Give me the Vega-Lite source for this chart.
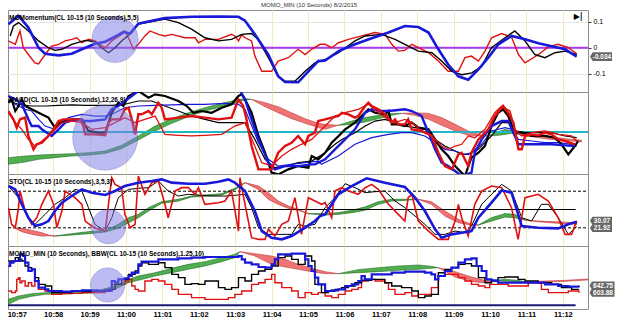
{
"$schema": "https://vega.github.io/schema/vega-lite/v6.json",
"background": "white",
"padding": {"left": 3, "top": 1, "right": 0, "bottom": 0},
"title": {"text": "MOMO_MIN (10 Seconds) 8/2/2015", "fontSize": 6, "fontWeight": "normal", "color": "#333333", "offset": 2, "anchor": "middle"},
"spacing": 0,
"bounds": "flush",
"config": {
  "font": "'Liberation Sans Narrow', 'Liberation Sans', sans-serif",
  "view": {"stroke": "#8c8c8c", "strokeWidth": 1},
  "axis": {"labelFontSize": 7, "labelColor": "#000000", "tickColor": "#333333", "tickSize": 3, "labelPadding": 2, "domain": false}
},
"datasets": {
  "m_blue": [{"t":56.77,"v":0.09},{"t":57.05,"v":0.122},{"t":57.32,"v":0.077},{"t":57.6,"v":0},{"t":57.78,"v":-0.023},{"t":58.15,"v":-0.029},{"t":58.51,"v":-0.023},{"t":58.79,"v":-0.006},{"t":59.15,"v":0.015},{"t":59.43,"v":0.023},{"t":59.79,"v":0.049},{"t":59.93,"v":0.06},{"t":60.11,"v":0.054},{"t":60.34,"v":0.092},{"t":60.71,"v":0.103},{"t":61.07,"v":0.113},{"t":61.81,"v":0.118},{"t":62.54,"v":0.119},{"t":63.09,"v":0.118},{"t":63.27,"v":0.103},{"t":63.54,"v":0.051},{"t":63.91,"v":-0.026},{"t":64.18,"v":-0.109},{"t":64.37,"v":-0.131},{"t":64.73,"v":-0.132},{"t":65.01,"v":-0.09},{"t":65.28,"v":-0.051},{"t":65.47,"v":-0.049},{"t":65.84,"v":-0.013},{"t":66.29,"v":0.013},{"t":66.75,"v":0.036},{"t":67.21,"v":0.058},{"t":67.66,"v":0.083},{"t":68.03,"v":0.079},{"t":68.31,"v":0.058},{"t":68.58,"v":-0.006},{"t":68.85,"v":-0.064},{"t":69.13,"v":-0.109},{"t":69.4,"v":-0.122},{"t":69.68,"v":-0.083},{"t":69.95,"v":-0.038},{"t":70.23,"v":0.013},{"t":70.59,"v":0.045},{"t":70.96,"v":0.032},{"t":71.33,"v":0.017},{"t":71.69,"v":0.006},{"t":72.06,"v":-0.006},{"t":72.38,"v":-0.034}],
  "m_black": [{"t":56.82,"v":0.045},{"t":56.91,"v":0.083},{"t":57.05,"v":0.096},{"t":57.32,"v":0.064},{"t":57.6,"v":0.026},{"t":57.87,"v":0},{"t":58.05,"v":-0.01},{"t":58.24,"v":-0.006},{"t":58.51,"v":0.013},{"t":58.88,"v":0.028},{"t":59.15,"v":0.023},{"t":59.33,"v":0},{"t":59.52,"v":-0.019},{"t":59.7,"v":0},{"t":59.88,"v":0.026},{"t":60.16,"v":0.058},{"t":60.34,"v":0.09},{"t":60.71,"v":0.1},{"t":61.07,"v":0.109},{"t":61.44,"v":0.096},{"t":61.8,"v":0.071},{"t":62.17,"v":0.038},{"t":62.54,"v":0.026},{"t":62.9,"v":0.032},{"t":63.18,"v":0.051},{"t":63.45,"v":0.054},{"t":63.63,"v":0.032},{"t":63.91,"v":-0.038},{"t":64.18,"v":-0.109},{"t":64.37,"v":-0.128},{"t":64.64,"v":-0.128},{"t":64.92,"v":-0.09},{"t":65.19,"v":-0.058},{"t":65.47,"v":-0.045},{"t":65.84,"v":-0.019},{"t":66.29,"v":0.026},{"t":66.57,"v":0.045},{"t":67.02,"v":0.051},{"t":67.39,"v":0.032},{"t":67.66,"v":0.013},{"t":68.03,"v":-0.013},{"t":68.4,"v":-0.019},{"t":68.67,"v":-0.051},{"t":68.95,"v":-0.09},{"t":69.22,"v":-0.103},{"t":69.5,"v":-0.096},{"t":69.77,"v":-0.071},{"t":70.04,"v":0},{"t":70.41,"v":0.038},{"t":70.68,"v":0.064},{"t":70.96,"v":0.026},{"t":71.23,"v":-0.026},{"t":71.51,"v":-0.038},{"t":71.78,"v":-0.019},{"t":72.06,"v":-0.013},{"t":72.38,"v":-0.026}],
  "m_red": [{"t":56.77,"v":0.026},{"t":56.96,"v":0.013},{"t":57.09,"v":0.064},{"t":57.18,"v":0},{"t":57.32,"v":-0.026},{"t":57.5,"v":-0.058},{"t":57.6,"v":-0.062},{"t":57.78,"v":-0.026},{"t":57.96,"v":0.006},{"t":58.15,"v":0.013},{"t":58.33,"v":0.026},{"t":58.51,"v":0.032},{"t":58.65,"v":0.038},{"t":58.79,"v":0.019},{"t":58.97,"v":0.032},{"t":59.15,"v":0.026},{"t":59.43,"v":0},{"t":59.61,"v":0.026},{"t":59.88,"v":0.051},{"t":59.97,"v":0.064},{"t":60.11,"v":0.026},{"t":60.2,"v":-0.006},{"t":60.34,"v":0.013},{"t":60.52,"v":0.045},{"t":60.66,"v":0.064},{"t":60.89,"v":0.051},{"t":61.07,"v":0.045},{"t":61.26,"v":0.051},{"t":61.62,"v":0.038},{"t":61.9,"v":0.038},{"t":61.99,"v":0.019},{"t":62.17,"v":0.032},{"t":62.54,"v":0.032},{"t":62.9,"v":0.051},{"t":62.99,"v":0.045},{"t":63.09,"v":0.026},{"t":63.18,"v":0.049},{"t":63.27,"v":0.038},{"t":63.45,"v":0.026},{"t":63.54,"v":-0.032},{"t":63.73,"v":-0.09},{"t":64.0,"v":-0.09},{"t":64.18,"v":-0.051},{"t":64.46,"v":-0.038},{"t":64.73,"v":-0.006},{"t":64.92,"v":-0.026},{"t":65.1,"v":-0.006},{"t":65.33,"v":0.013},{"t":65.47,"v":0.013},{"t":65.65,"v":0},{"t":65.84,"v":0.019},{"t":66.11,"v":0.032},{"t":66.48,"v":0.045},{"t":66.84,"v":0.058},{"t":67.12,"v":0.051},{"t":67.3,"v":0.013},{"t":67.48,"v":-0.013},{"t":67.66,"v":-0.01},{"t":67.85,"v":0.013},{"t":68.03,"v":0},{"t":68.31,"v":-0.019},{"t":68.58,"v":-0.051},{"t":68.85,"v":-0.09},{"t":69.13,"v":-0.09},{"t":69.31,"v":-0.038},{"t":69.49,"v":-0.032},{"t":69.68,"v":-0.051},{"t":69.86,"v":-0.013},{"t":70.04,"v":0.038},{"t":70.32,"v":0.054},{"t":70.59,"v":0.041},{"t":70.78,"v":-0.026},{"t":70.96,"v":-0.058},{"t":71.33,"v":-0.026},{"t":71.6,"v":0.003},{"t":71.87,"v":0.013},{"t":72.15,"v":0},{"t":72.38,"v":-0.023}],
  "m_zero": [{"t":56.76,"v":0},{"t":72.69,"v":0}],
  "m_circle": [{"t":59.7,"v":0.032}],
  "m_tag": [{"t":72.69,"v":-0.034,"label":"-0.034"}],
  "m_icon": [{"t":72.42,"v":0.117,"label":"▶|"}],

  "d_red": [{"t":56.77,"v":0.0159},{"t":56.91,"v":0.0096},{"t":57.0,"v":0.0033},{"t":57.09,"v":0.0096},{"t":57.23,"v":0.0109},{"t":57.32,"v":-0.003},{"t":57.46,"v":-0.0131},{"t":57.55,"v":-0.0093},{"t":57.69,"v":-0.0081},{"t":57.87,"v":-0.003},{"t":58.01,"v":0.002},{"t":58.15,"v":0.0083},{"t":58.28,"v":0.0096},{"t":58.51,"v":0.0096},{"t":58.74,"v":0.0096},{"t":58.83,"v":0.0045},{"t":58.88,"v":-0.0018},{"t":59.15,"v":-0.0018},{"t":59.43,"v":-0.0025},{"t":59.52,"v":0.0071},{"t":59.61,"v":0.0096},{"t":59.84,"v":0.0096},{"t":59.97,"v":0.0172},{"t":60.07,"v":0.0184},{"t":60.16,"v":0.0096},{"t":60.25,"v":-0.0018},{"t":60.34,"v":0.0134},{"t":60.43,"v":0.0134},{"t":60.62,"v":0.0159},{"t":60.71,"v":0.0134},{"t":60.89,"v":0.0222},{"t":60.98,"v":0.0184},{"t":61.07,"v":0.0096},{"t":61.44,"v":0.0109},{"t":61.8,"v":0.0121},{"t":62.17,"v":0.0109},{"t":62.54,"v":0.0096},{"t":62.9,"v":0.0109},{"t":63.09,"v":0.0247},{"t":63.22,"v":0.0197},{"t":63.31,"v":0.0096},{"t":63.45,"v":-0.0106},{"t":63.64,"v":-0.0283},{"t":64.0,"v":-0.0283},{"t":64.18,"v":-0.0157},{"t":64.37,"v":-0.0106},{"t":64.55,"v":-0.0081},{"t":64.73,"v":-0.003},{"t":64.92,"v":-0.0093},{"t":65.01,"v":-0.003},{"t":65.19,"v":-0.0005},{"t":65.28,"v":0.0083},{"t":65.47,"v":0.0096},{"t":65.65,"v":0.0109},{"t":65.84,"v":0.0121},{"t":65.93,"v":0.0146},{"t":66.11,"v":0.0134},{"t":66.29,"v":0.0109},{"t":66.38,"v":0.0121},{"t":66.57,"v":0.0197},{"t":66.66,"v":0.0222},{"t":66.75,"v":0.0197},{"t":66.93,"v":0.0172},{"t":67.12,"v":0.0134},{"t":67.3,"v":0.0071},{"t":67.39,"v":0.0096},{"t":67.48,"v":0.0058},{"t":67.66,"v":0.0058},{"t":67.75,"v":0.0096},{"t":67.85,"v":0.002},{"t":68.12,"v":0.0008},{"t":68.4,"v":-0.003},{"t":68.58,"v":-0.0157},{"t":68.76,"v":-0.0258},{"t":68.95,"v":-0.0283},{"t":69.13,"v":-0.0169},{"t":69.22,"v":-0.0157},{"t":69.4,"v":-0.0258},{"t":69.49,"v":-0.0157},{"t":69.68,"v":-0.0056},{"t":69.95,"v":0.002},{"t":70.13,"v":0.0121},{"t":70.36,"v":0.0197},{"t":70.5,"v":0.0146},{"t":70.64,"v":0.0071},{"t":70.78,"v":-0.0131},{"t":70.87,"v":-0.0131},{"t":70.96,"v":-0.003},{"t":71.14,"v":-0.0018},{"t":71.32,"v":-0.0025},{"t":71.51,"v":-0.0005},{"t":71.69,"v":-0.0018},{"t":71.87,"v":-0.0056},{"t":72.06,"v":-0.0068},{"t":72.33,"v":-0.0093}],
  "d_red2": [{"t":56.77,"v":0.0146},{"t":56.96,"v":0.0071},{"t":57.14,"v":0.002},{"t":57.32,"v":-0.0056},{"t":57.5,"v":-0.0106},{"t":57.69,"v":-0.0068},{"t":57.96,"v":-0.0005},{"t":58.24,"v":0.0071},{"t":58.51,"v":0.0083},{"t":58.79,"v":0.0071},{"t":59.06,"v":0.002},{"t":59.43,"v":0.0033},{"t":59.7,"v":0.0071},{"t":59.97,"v":0.0109},{"t":60.25,"v":0.0071},{"t":60.52,"v":0.0096},{"t":60.8,"v":0.0121},{"t":61.07,"v":-0.0018},{"t":61.44,"v":-0.0025},{"t":61.8,"v":-0.003},{"t":62.17,"v":-0.0025},{"t":62.63,"v":-0.0018},{"t":62.99,"v":0.0045},{"t":63.27,"v":0.0071},{"t":63.5,"v":-0.0081},{"t":63.73,"v":-0.0232},{"t":64.0,"v":-0.0258},{"t":64.28,"v":-0.0182},{"t":64.55,"v":-0.0131},{"t":64.82,"v":-0.0093},{"t":65.1,"v":-0.0056},{"t":65.47,"v":0.0045},{"t":65.74,"v":0.0121},{"t":66.02,"v":0.0146},{"t":66.38,"v":0.0172},{"t":66.66,"v":0.021},{"t":66.93,"v":0.0146},{"t":67.21,"v":0.0096},{"t":67.39,"v":0.0071},{"t":67.66,"v":0.0096},{"t":67.85,"v":0.0071},{"t":68.12,"v":0.0008},{"t":68.4,"v":-0.003},{"t":68.67,"v":-0.0106},{"t":68.85,"v":-0.0131},{"t":69.04,"v":-0.0106},{"t":69.22,"v":-0.0093},{"t":69.4,"v":-0.003},{"t":69.58,"v":-0.0043},{"t":69.86,"v":0.002},{"t":70.13,"v":0.0146},{"t":70.32,"v":0.0197},{"t":70.55,"v":0.0159},{"t":70.68,"v":0.002},{"t":70.87,"v":-0.003},{"t":71.14,"v":-0.0005},{"t":71.51,"v":0.0008},{"t":71.87,"v":-0.0018},{"t":72.24,"v":-0.003},{"t":72.38,"v":-0.0068}],
  "d_black": [{"t":56.77,"v":0.0222},{"t":56.86,"v":0.0247},{"t":56.96,"v":0.0159},{"t":57.05,"v":0.0197},{"t":57.14,"v":0.0247},{"t":57.23,"v":0.0197},{"t":57.41,"v":0.0172},{"t":57.6,"v":0.0146},{"t":57.87,"v":0.0109},{"t":58.05,"v":0.0033},{"t":58.19,"v":0.0071},{"t":58.51,"v":0.0096},{"t":58.79,"v":0.0096},{"t":58.97,"v":0.0008},{"t":59.24,"v":-0.0005},{"t":59.43,"v":-0.0005},{"t":59.61,"v":0.0146},{"t":59.79,"v":0.0222},{"t":59.93,"v":0.0197},{"t":60.07,"v":0.0273},{"t":60.16,"v":0.0285},{"t":60.34,"v":0.0311},{"t":60.62,"v":0.026},{"t":60.8,"v":0.0285},{"t":61.07,"v":0.0273},{"t":61.44,"v":0.0235},{"t":61.67,"v":0.0197},{"t":61.85,"v":0.0146},{"t":62.08,"v":0.0159},{"t":62.35,"v":0.0146},{"t":62.63,"v":0.0184},{"t":62.9,"v":0.021},{"t":63.09,"v":0.0273},{"t":63.18,"v":0.0285},{"t":63.27,"v":0.0247},{"t":63.45,"v":0.0146},{"t":63.64,"v":-0.003},{"t":63.82,"v":-0.0157},{"t":64.0,"v":-0.0308},{"t":64.18,"v":-0.0321},{"t":64.46,"v":-0.0283},{"t":64.73,"v":-0.0258},{"t":65.01,"v":-0.027},{"t":65.1,"v":-0.0182},{"t":65.28,"v":-0.0207},{"t":65.47,"v":-0.0157},{"t":65.65,"v":-0.0081},{"t":65.84,"v":-0.003},{"t":66.02,"v":0.002},{"t":66.29,"v":0.0071},{"t":66.47,"v":0.0121},{"t":66.66,"v":0.0172},{"t":66.84,"v":0.0146},{"t":67.12,"v":0.0134},{"t":67.21,"v":0.0159},{"t":67.3,"v":0.0058},{"t":67.48,"v":0.0058},{"t":67.66,"v":0.0045},{"t":67.85,"v":0.0071},{"t":68.03,"v":0.0033},{"t":68.31,"v":0.002},{"t":68.49,"v":-0.0056},{"t":68.67,"v":-0.0131},{"t":68.85,"v":-0.0182},{"t":69.04,"v":-0.0258},{"t":69.22,"v":-0.0308},{"t":69.31,"v":-0.0333},{"t":69.49,"v":-0.0194},{"t":69.68,"v":-0.0157},{"t":69.86,"v":-0.0106},{"t":70.04,"v":0.0045},{"t":70.22,"v":0.0146},{"t":70.36,"v":0.0172},{"t":70.5,"v":0.0121},{"t":70.68,"v":-0.0005},{"t":70.87,"v":-0.0005},{"t":71.14,"v":-0.003},{"t":71.51,"v":-0.003},{"t":71.78,"v":-0.0043},{"t":71.96,"v":-0.0093},{"t":72.15,"v":-0.0169},{"t":72.33,"v":-0.0106},{"t":72.42,"v":-0.0068}],
  "d_black2": [{"t":56.77,"v":0.0235},{"t":57.05,"v":0.021},{"t":57.41,"v":0.0197},{"t":57.78,"v":0.0197},{"t":58.15,"v":0.0202},{"t":58.51,"v":0.0205},{"t":58.88,"v":0.0202},{"t":59.24,"v":0.0202},{"t":59.61,"v":0.0202},{"t":59.97,"v":0.021},{"t":60.34,"v":0.0235},{"t":60.71,"v":0.0235},{"t":61.07,"v":0.0197},{"t":61.44,"v":0.0159},{"t":61.8,"v":0.0121},{"t":62.17,"v":0.0096},{"t":62.54,"v":0.0071},{"t":62.9,"v":0.0071},{"t":63.27,"v":0.0071},{"t":63.54,"v":-0.0056},{"t":63.82,"v":-0.0207},{"t":64.09,"v":-0.027},{"t":64.37,"v":-0.0258},{"t":64.73,"v":-0.0232},{"t":65.1,"v":-0.022},{"t":65.47,"v":-0.0157},{"t":65.74,"v":-0.0093},{"t":65.93,"v":-0.0056},{"t":66.29,"v":-0.0005},{"t":66.57,"v":0.0045},{"t":66.84,"v":0.0083},{"t":67.12,"v":0.0096},{"t":67.39,"v":0.0071},{"t":67.66,"v":0.0045},{"t":67.94,"v":0.0033},{"t":68.21,"v":0.002},{"t":68.49,"v":-0.0056},{"t":68.76,"v":-0.0106},{"t":69.04,"v":-0.0144},{"t":69.22,"v":-0.0169},{"t":69.4,"v":-0.0169},{"t":69.68,"v":-0.0131},{"t":70.04,"v":-0.003},{"t":70.32,"v":0.0071},{"t":70.5,"v":0.0071},{"t":70.68,"v":0.0008},{"t":70.96,"v":-0.0005},{"t":71.32,"v":-0.0005},{"t":71.69,"v":-0.0005},{"t":72.06,"v":-0.003},{"t":72.38,"v":-0.0043}],
  "d_blue": [{"t":56.77,"v":0.0273},{"t":56.96,"v":0.0247},{"t":57.14,"v":0.021},{"t":57.32,"v":0.0096},{"t":57.41,"v":0.0045},{"t":57.6,"v":0.0045},{"t":57.69,"v":0.002},{"t":57.96,"v":-0.003},{"t":58.15,"v":0.002},{"t":58.33,"v":0.0071},{"t":58.6,"v":0.0096},{"t":58.88,"v":0.0083},{"t":59.06,"v":0.0083},{"t":59.43,"v":0.0096},{"t":59.61,"v":0.0172},{"t":59.79,"v":0.0197},{"t":59.97,"v":0.0235},{"t":60.16,"v":0.0273},{"t":60.34,"v":0.0311},{"t":60.62,"v":0.0336},{"t":63.09,"v":0.0336},{"t":63.27,"v":0.0247},{"t":63.45,"v":0.0096},{"t":63.64,"v":-0.0056},{"t":63.91,"v":-0.0232},{"t":64.09,"v":-0.0283},{"t":64.37,"v":-0.0258},{"t":64.73,"v":-0.0258},{"t":65.1,"v":-0.0245},{"t":65.19,"v":-0.0245},{"t":65.47,"v":-0.0207},{"t":65.74,"v":-0.0131},{"t":65.93,"v":-0.0081},{"t":66.11,"v":-0.003},{"t":66.29,"v":0.002},{"t":66.57,"v":0.0146},{"t":66.75,"v":0.0172},{"t":67.02,"v":0.0159},{"t":67.21,"v":0.0159},{"t":67.48,"v":0.0167},{"t":67.66,"v":0.0172},{"t":67.85,"v":0.0159},{"t":68.12,"v":0.0121},{"t":68.31,"v":-0.0005},{"t":68.49,"v":-0.0131},{"t":68.67,"v":-0.0232},{"t":68.85,"v":-0.0258},{"t":69.04,"v":-0.0295},{"t":69.22,"v":-0.0333},{"t":69.49,"v":-0.0308},{"t":69.58,"v":-0.0157},{"t":69.77,"v":-0.0056},{"t":70.04,"v":0.0045},{"t":70.32,"v":0.0083},{"t":70.5,"v":0.0083},{"t":70.64,"v":-0.0005},{"t":70.78,"v":-0.0093},{"t":70.96,"v":-0.0093},{"t":71.32,"v":-0.0093},{"t":71.69,"v":-0.0093},{"t":72.06,"v":-0.0101},{"t":72.33,"v":-0.0106}],
  "d_blue2": [{"t":56.77,"v":0.0247},{"t":56.96,"v":0.021},{"t":57.23,"v":0.0172},{"t":57.41,"v":0.0159},{"t":57.6,"v":0.0096},{"t":57.78,"v":0.0045},{"t":58.05,"v":0.002},{"t":58.24,"v":0.0071},{"t":58.42,"v":0.0109},{"t":58.79,"v":0.0134},{"t":59.15,"v":0.0121},{"t":59.43,"v":0.0121},{"t":59.7,"v":0.0146},{"t":59.97,"v":0.0184},{"t":60.34,"v":0.0197},{"t":60.8,"v":0.0202},{"t":61.26,"v":0.0205},{"t":61.71,"v":0.021},{"t":62.17,"v":0.021},{"t":62.72,"v":0.0217},{"t":63.09,"v":0.021},{"t":63.27,"v":0.0172},{"t":63.64,"v":-0.0081},{"t":63.91,"v":-0.0207},{"t":64.18,"v":-0.0258},{"t":64.55,"v":-0.0245},{"t":64.92,"v":-0.0232},{"t":65.28,"v":-0.022},{"t":65.37,"v":-0.0245},{"t":65.83,"v":-0.0182},{"t":66.29,"v":-0.0093},{"t":66.75,"v":-0.0043},{"t":67.21,"v":-0.0018},{"t":67.57,"v":-0.0005},{"t":67.85,"v":-0.0005},{"t":68.21,"v":-0.003},{"t":68.49,"v":-0.0081},{"t":68.76,"v":-0.0131},{"t":69.04,"v":-0.0144},{"t":69.31,"v":-0.0169},{"t":69.49,"v":-0.0157},{"t":69.77,"v":-0.0093},{"t":70.04,"v":0.0008},{"t":70.41,"v":0.0033},{"t":70.59,"v":0.002},{"t":70.78,"v":-0.0056},{"t":71.14,"v":-0.0068},{"t":71.51,"v":-0.0081},{"t":71.87,"v":-0.0081},{"t":72.24,"v":-0.0093},{"t":72.38,"v":-0.0106}],
  "d_band": [{"g":1,"d":"up","t":56.77,"hi":-0.0194,"lo":-0.0245},{"g":1,"d":"up","t":57.23,"hi":-0.0182,"lo":-0.0227},{"g":1,"d":"up","t":57.6,"hi":-0.0175,"lo":-0.0207},{"g":1,"d":"up","t":58.05,"hi":-0.0169,"lo":-0.0194},{"g":1,"d":"up","t":58.51,"hi":-0.0164,"lo":-0.0182},{"g":1,"d":"up","t":58.97,"hi":-0.0157,"lo":-0.0175},{"g":1,"d":"up","t":59.43,"hi":-0.0144,"lo":-0.0162},{"g":1,"d":"up","t":59.88,"hi":-0.0101,"lo":-0.0126},{"g":1,"d":"up","t":60.34,"hi":-0.003,"lo":-0.0061},{"g":1,"d":"up","t":60.8,"hi":0.0045,"lo":0.0008},{"g":1,"d":"up","t":61.26,"hi":0.0101,"lo":0.0066},{"g":1,"d":"up","t":61.71,"hi":0.0146,"lo":0.0116},{"g":1,"d":"up","t":62.17,"hi":0.0184,"lo":0.0159},{"g":1,"d":"up","t":62.63,"hi":0.0217,"lo":0.0192},{"g":1,"d":"up","t":62.99,"hi":0.024,"lo":0.0222},{"g":1,"d":"up","t":63.27,"hi":0.0253,"lo":0.0242},{"g":1,"d":"up","t":63.45,"hi":0.0247,"lo":0.0247},
    {"g":2,"d":"down","t":63.45,"hi":0.0247,"lo":0.0247},{"g":2,"d":"down","t":63.82,"hi":0.0222,"lo":0.0192},{"g":2,"d":"down","t":64.18,"hi":0.0192,"lo":0.0146},{"g":2,"d":"down","t":64.55,"hi":0.0146,"lo":0.0101},{"g":2,"d":"down","t":64.92,"hi":0.0101,"lo":0.0066},{"g":2,"d":"down","t":65.28,"hi":0.0066,"lo":0.0035},{"g":2,"d":"down","t":65.47,"hi":0.0058,"lo":0.002},{"g":2,"d":"down","t":65.83,"hi":0.0051,"lo":0.0051},
    {"g":3,"d":"up","t":65.83,"hi":0.0051,"lo":0.0051},{"g":3,"d":"up","t":66.2,"hi":0.0083,"lo":0.0058},{"g":3,"d":"up","t":66.57,"hi":0.0109,"lo":0.0076},{"g":3,"d":"up","t":66.93,"hi":0.0126,"lo":0.0101},{"g":3,"d":"up","t":67.3,"hi":0.0141,"lo":0.0126},{"g":3,"d":"up","t":67.57,"hi":0.0141,"lo":0.0141},
    {"g":4,"d":"down","t":67.57,"hi":0.0141,"lo":0.0141},{"g":4,"d":"down","t":67.94,"hi":0.0146,"lo":0.0126},{"g":4,"d":"down","t":68.31,"hi":0.0141,"lo":0.0096},{"g":4,"d":"down","t":68.67,"hi":0.0109,"lo":0.0051},{"g":4,"d":"down","t":69.04,"hi":0.0058,"lo":0.0008},{"g":4,"d":"down","t":69.4,"hi":0.0008,"lo":-0.0025},{"g":4,"d":"down","t":69.77,"hi":-0.0025,"lo":-0.003},{"g":4,"d":"down","t":69.95,"hi":-0.003,"lo":-0.003},
    {"g":5,"d":"up","t":69.95,"hi":-0.003,"lo":-0.003},{"g":5,"d":"up","t":70.22,"hi":0.0,"lo":-0.0025},{"g":5,"d":"up","t":70.41,"hi":0.002,"lo":-0.0018},{"g":5,"d":"up","t":70.59,"hi":0.0008,"lo":-0.001},{"g":5,"d":"up","t":70.78,"hi":-0.0018,"lo":-0.0018},
    {"g":6,"d":"down","t":70.78,"hi":-0.0018,"lo":-0.0018},{"g":6,"d":"down","t":71.14,"hi":-0.0018,"lo":-0.0035},{"g":6,"d":"down","t":71.51,"hi":-0.003,"lo":-0.0051},{"g":6,"d":"down","t":71.87,"hi":-0.0043,"lo":-0.0061},{"g":6,"d":"down","t":72.24,"hi":-0.0056,"lo":-0.0068},{"g":6,"d":"down","t":72.51,"hi":-0.0061,"lo":-0.0076}],
  "d_zero": [{"t":56.76,"v":0},{"t":72.69,"v":0}],
  "d_circle": [{"t":59.43,"v":-0.0043}],

  "s_blue": [{"t":56.77,"v":88.5},{"t":56.96,"v":83.0},{"t":57.14,"v":58.5},{"t":57.32,"v":36.6},{"t":57.5,"v":22.9},{"t":57.69,"v":25.7},{"t":57.87,"v":31.1},{"t":58.05,"v":47.5},{"t":58.24,"v":61.2},{"t":58.51,"v":72.1},{"t":58.79,"v":83.0},{"t":59.06,"v":77.6},{"t":59.43,"v":73.8},{"t":59.7,"v":80.3},{"t":59.97,"v":88.5},{"t":60.34,"v":94.0},{"t":60.71,"v":96.7},{"t":60.98,"v":99.4},{"t":61.26,"v":94.0},{"t":61.71,"v":92.3},{"t":62.17,"v":92.3},{"t":62.54,"v":95.6},{"t":62.81,"v":99.4},{"t":62.99,"v":94.0},{"t":63.27,"v":80.3},{"t":63.54,"v":47.5},{"t":63.73,"v":14.7},{"t":64.0,"v":3.8},{"t":64.28,"v":1.1},{"t":64.55,"v":6.5},{"t":64.92,"v":20.2},{"t":65.19,"v":31.1},{"t":65.33,"v":39.3},{"t":65.47,"v":42.1},{"t":65.83,"v":74.9},{"t":66.2,"v":88.5},{"t":66.61,"v":101.1},{"t":67.11,"v":94.0},{"t":67.66,"v":86.9},{"t":67.94,"v":69.4},{"t":68.21,"v":47.5},{"t":68.49,"v":17.5},{"t":68.67,"v":3.8},{"t":68.94,"v":9.3},{"t":69.22,"v":12.0},{"t":69.49,"v":14.7},{"t":69.68,"v":36.6},{"t":70.04,"v":61.2},{"t":70.32,"v":81.4},{"t":70.59,"v":77.6},{"t":70.87,"v":22.9},{"t":71.32,"v":20.2},{"t":71.87,"v":19.1},{"t":72.15,"v":25.7},{"t":72.38,"v":30.07}],
  "s_black": [{"t":56.77,"v":88.5},{"t":57.05,"v":69.4},{"t":57.32,"v":36.6},{"t":57.5,"v":25.7},{"t":57.78,"v":42.1},{"t":58.05,"v":58.5},{"t":58.33,"v":69.4},{"t":58.6,"v":83.0},{"t":58.79,"v":80.3},{"t":58.97,"v":53.0},{"t":59.15,"v":25.7},{"t":59.43,"v":14.7},{"t":59.61,"v":36.6},{"t":59.79,"v":69.4},{"t":60.07,"v":83.0},{"t":60.34,"v":84.7},{"t":60.62,"v":85.8},{"t":60.89,"v":96.7},{"t":61.16,"v":80.3},{"t":61.44,"v":72.1},{"t":61.71,"v":74.9},{"t":61.99,"v":73.8},{"t":62.35,"v":72.1},{"t":62.72,"v":72.1},{"t":63.09,"v":73.8},{"t":63.27,"v":74.9},{"t":63.45,"v":53.0},{"t":63.64,"v":20.2},{"t":63.91,"v":9.3},{"t":64.18,"v":9.3},{"t":64.55,"v":9.3},{"t":64.73,"v":25.7},{"t":64.92,"v":22.9},{"t":65.19,"v":25.7},{"t":65.47,"v":53.0},{"t":65.74,"v":69.4},{"t":66.02,"v":92.3},{"t":66.29,"v":85.8},{"t":66.57,"v":77.6},{"t":66.84,"v":79.2},{"t":67.11,"v":80.3},{"t":67.39,"v":63.9},{"t":67.66,"v":53.0},{"t":67.94,"v":39.3},{"t":68.21,"v":25.7},{"t":68.49,"v":9.3},{"t":68.76,"v":9.3},{"t":69.04,"v":14.7},{"t":69.31,"v":12.0},{"t":69.49,"v":22.9},{"t":69.77,"v":58.5},{"t":70.04,"v":74.9},{"t":70.32,"v":91.2},{"t":70.59,"v":80.3},{"t":70.87,"v":36.6},{"t":71.14,"v":31.1},{"t":71.41,"v":58.5},{"t":71.6,"v":58.5},{"t":71.87,"v":36.6},{"t":72.15,"v":9.3},{"t":72.38,"v":21.92}],
  "s_red": [{"t":56.77,"v":53.0},{"t":56.86,"v":25.7},{"t":56.96,"v":20.2},{"t":57.05,"v":53.0},{"t":57.09,"v":80.3},{"t":57.23,"v":47.5},{"t":57.41,"v":25.7},{"t":57.55,"v":36.6},{"t":57.69,"v":58.5},{"t":57.87,"v":80.3},{"t":58.01,"v":58.5},{"t":58.1,"v":20.2},{"t":58.24,"v":47.5},{"t":58.33,"v":80.3},{"t":58.46,"v":74.9},{"t":58.6,"v":69.4},{"t":58.79,"v":58.5},{"t":58.88,"v":31.1},{"t":59.06,"v":22.9},{"t":59.24,"v":17.5},{"t":59.43,"v":14.7},{"t":59.52,"v":58.5},{"t":59.61,"v":102.2},{"t":59.7,"v":91.2},{"t":59.88,"v":85.8},{"t":59.97,"v":42.1},{"t":60.11,"v":20.2},{"t":60.25,"v":25.7},{"t":60.34,"v":104.9},{"t":60.52,"v":74.9},{"t":60.71,"v":94.0},{"t":60.89,"v":96.7},{"t":61.07,"v":58.5},{"t":61.16,"v":36.6},{"t":61.35,"v":80.3},{"t":61.53,"v":85.8},{"t":61.71,"v":85.8},{"t":61.9,"v":74.9},{"t":61.99,"v":85.8},{"t":62.17,"v":58.5},{"t":62.54,"v":61.2},{"t":62.72,"v":63.9},{"t":62.9,"v":80.3},{"t":63.09,"v":14.7},{"t":63.13,"v":102.2},{"t":63.27,"v":58.5},{"t":63.45,"v":3.8},{"t":63.64,"v":1.1},{"t":63.82,"v":1.1},{"t":63.91,"v":17.5},{"t":64.09,"v":6.5},{"t":64.28,"v":25.7},{"t":64.46,"v":31.1},{"t":64.64,"v":69.4},{"t":64.82,"v":9.3},{"t":65.01,"v":69.4},{"t":65.19,"v":63.9},{"t":65.37,"v":58.5},{"t":65.47,"v":61.2},{"t":65.65,"v":36.6},{"t":65.74,"v":80.3},{"t":65.92,"v":85.8},{"t":66.11,"v":80.3},{"t":66.38,"v":74.9},{"t":66.57,"v":85.8},{"t":66.75,"v":91.2},{"t":66.93,"v":83.0},{"t":67.21,"v":58.5},{"t":67.48,"v":42.1},{"t":67.66,"v":31.1},{"t":67.75,"v":69.4},{"t":67.85,"v":74.9},{"t":68.03,"v":31.1},{"t":68.31,"v":14.7},{"t":68.58,"v":1.1},{"t":68.85,"v":1.1},{"t":69.04,"v":31.1},{"t":69.13,"v":58.5},{"t":69.22,"v":36.6},{"t":69.4,"v":6.5},{"t":69.58,"v":58.5},{"t":69.77,"v":80.3},{"t":70.04,"v":88.5},{"t":70.32,"v":85.8},{"t":70.59,"v":53.0},{"t":70.77,"v":1.1},{"t":70.96,"v":69.4},{"t":71.32,"v":74.9},{"t":71.6,"v":63.9},{"t":71.87,"v":36.6},{"t":72.06,"v":9.3},{"t":72.24,"v":9.3},{"t":72.38,"v":31.1}],
  "s_band": [{"g":1,"d":"down","t":56.96,"hi":20.2,"lo":19.1},{"g":1,"d":"down","t":57.14,"hi":19.1,"lo":13.6},{"g":1,"d":"down","t":57.41,"hi":15.8,"lo":9.3},{"g":1,"d":"down","t":57.69,"hi":12.0,"lo":6.5},{"g":1,"d":"down","t":57.87,"hi":8.2,"lo":7.1},{"g":1,"d":"down","t":58.05,"hi":6.5,"lo":6.5},
    {"g":2,"d":"up","t":58.05,"hi":6.5,"lo":6.5},{"g":2,"d":"up","t":58.51,"hi":10.4,"lo":8.2},{"g":2,"d":"up","t":58.97,"hi":13.7,"lo":10.4},{"g":2,"d":"up","t":59.43,"hi":15.8,"lo":13.1},{"g":2,"d":"up","t":59.79,"hi":25.7,"lo":19.1},{"g":2,"d":"up","t":60.07,"hi":36.6,"lo":28.4},{"g":2,"d":"up","t":60.34,"hi":42.1,"lo":36.6},{"g":2,"d":"up","t":60.62,"hi":53.0,"lo":47.5},{"g":2,"d":"up","t":60.98,"hi":62.8,"lo":60.1},{"g":2,"d":"up","t":61.44,"hi":66.7,"lo":63.9},{"g":2,"d":"up","t":61.8,"hi":72.1,"lo":70.5},{"g":2,"d":"up","t":62.17,"hi":73.8,"lo":71.6},{"g":2,"d":"up","t":62.63,"hi":75.9,"lo":73.8},{"g":2,"d":"up","t":62.99,"hi":84.7,"lo":82.5},{"g":2,"d":"up","t":63.18,"hi":91.2,"lo":90.1},{"g":2,"d":"up","t":63.27,"hi":94.0,"lo":94.0},
    {"g":3,"d":"down","t":63.27,"hi":94.0,"lo":94.0},{"g":3,"d":"down","t":63.64,"hi":88.5,"lo":83.0},{"g":3,"d":"down","t":63.91,"hi":77.6,"lo":66.7},{"g":3,"d":"down","t":64.18,"hi":63.9,"lo":58.5},{"g":3,"d":"down","t":64.46,"hi":55.7,"lo":51.9},{"g":3,"d":"down","t":64.73,"hi":50.3,"lo":48.6},{"g":3,"d":"down","t":65.01,"hi":43.2,"lo":43.2},
    {"g":4,"d":"up","t":65.01,"hi":43.2,"lo":43.2},{"g":4,"d":"up","t":65.47,"hi":43.2,"lo":41.0},{"g":4,"d":"up","t":65.83,"hi":44.8,"lo":42.1},{"g":4,"d":"up","t":66.2,"hi":48.6,"lo":44.8},{"g":4,"d":"up","t":66.56,"hi":54.1,"lo":48.6},{"g":4,"d":"up","t":66.93,"hi":62.8,"lo":58.5},{"g":4,"d":"up","t":67.3,"hi":66.7,"lo":63.9},{"g":4,"d":"up","t":67.66,"hi":66.7,"lo":65.0},{"g":4,"d":"up","t":68.03,"hi":66.7,"lo":66.7},
    {"g":5,"d":"down","t":68.03,"hi":66.7,"lo":66.7},{"g":5,"d":"down","t":68.39,"hi":62.8,"lo":58.5},{"g":5,"d":"down","t":68.76,"hi":47.5,"lo":39.3},{"g":5,"d":"down","t":69.13,"hi":33.9,"lo":28.4},{"g":5,"d":"down","t":69.49,"hi":25.7,"lo":24.6},{"g":5,"d":"down","t":69.68,"hi":24.6,"lo":24.6},
    {"g":6,"d":"up","t":69.68,"hi":24.6,"lo":24.6},{"g":6,"d":"up","t":70.04,"hi":36.6,"lo":31.1},{"g":6,"d":"up","t":70.41,"hi":43.2,"lo":37.7},{"g":6,"d":"up","t":70.68,"hi":42.1,"lo":36.6},{"g":6,"d":"up","t":70.96,"hi":32.8,"lo":32.8},
    {"g":7,"d":"down","t":70.96,"hi":32.8,"lo":32.8},{"g":7,"d":"down","t":71.32,"hi":31.1,"lo":30.0},{"g":7,"d":"down","t":71.78,"hi":30.0,"lo":27.8},{"g":7,"d":"down","t":72.38,"hi":28.4,"lo":25.7}],
  "s_dash": [{"k":"80","t":56.76,"v":80},{"k":"80","t":72.69,"v":80},{"k":"20","t":56.76,"v":20},{"k":"20","t":72.69,"v":20}],
  "s_mid": [{"t":56.76,"v":50},{"t":72.35,"v":50}],
  "s_circle": [{"t":59.52,"v":21.9}],
  "s_tag": [{"t":72.69,"v":31.5,"label":"30.07"},{"t":72.69,"v":19.5,"label":"21.92"}],

  "v_blue": [{"t":56.77,"v":1396},{"t":56.82,"v":1514},{"t":56.91,"v":1573},{"t":57.09,"v":1810},{"t":57.18,"v":1751},{"t":57.23,"v":1514},{"t":57.32,"v":1218},{"t":57.41,"v":1278},{"t":57.5,"v":864},{"t":57.6,"v":627},{"t":57.78,"v":568},{"t":57.87,"v":509},{"t":58.24,"v":485},{"t":58.51,"v":509},{"t":58.79,"v":532},{"t":59.24,"v":509},{"t":59.43,"v":532},{"t":59.61,"v":864},{"t":59.7,"v":804},{"t":59.79,"v":923},{"t":59.97,"v":958},{"t":60.07,"v":1041},{"t":60.16,"v":1159},{"t":60.34,"v":1455},{"t":60.43,"v":1550},{"t":60.89,"v":1633},{"t":61.44,"v":1668},{"t":61.8,"v":1692},{"t":62.17,"v":1715},{"t":63.09,"v":1751},{"t":63.18,"v":1633},{"t":63.27,"v":1514},{"t":63.45,"v":1455},{"t":63.64,"v":1360},{"t":63.82,"v":1337},{"t":64.0,"v":1455},{"t":64.09,"v":1633},{"t":64.18,"v":1810},{"t":64.55,"v":1834},{"t":64.92,"v":1633},{"t":65.01,"v":1396},{"t":65.1,"v":1218},{"t":65.19,"v":982},{"t":65.28,"v":745},{"t":65.47,"v":509},{"t":65.65,"v":532},{"t":65.83,"v":568},{"t":66.02,"v":686},{"t":66.2,"v":745},{"t":66.38,"v":864},{"t":66.47,"v":1041},{"t":66.56,"v":923},{"t":66.75,"v":1100},{"t":67.3,"v":1159},{"t":67.66,"v":1195},{"t":68.21,"v":1159},{"t":68.39,"v":1100},{"t":68.49,"v":923},{"t":68.58,"v":1041},{"t":68.76,"v":1218},{"t":68.94,"v":1337},{"t":69.13,"v":1514},{"t":69.31,"v":1633},{"t":69.49,"v":1668},{"t":69.63,"v":1396},{"t":69.77,"v":1218},{"t":69.9,"v":923},{"t":70.04,"v":887},{"t":70.22,"v":804},{"t":71.51,"v":745},{"t":71.87,"v":686},{"t":72.15,"v":662},{"t":72.44,"v":643}],
  "v_black": [{"t":56.77,"v":1573},{"t":56.86,"v":1550},{"t":56.96,"v":1692},{"t":57.05,"v":1633},{"t":57.14,"v":1573},{"t":57.23,"v":1396},{"t":57.32,"v":1337},{"t":57.41,"v":1278},{"t":57.5,"v":982},{"t":57.6,"v":745},{"t":57.78,"v":686},{"t":57.96,"v":450},{"t":58.51,"v":509},{"t":58.79,"v":485},{"t":59.06,"v":509},{"t":59.52,"v":568},{"t":59.7,"v":745},{"t":59.88,"v":923},{"t":60.07,"v":1100},{"t":60.25,"v":1218},{"t":60.34,"v":1396},{"t":60.43,"v":1514},{"t":60.62,"v":1455},{"t":60.89,"v":1514},{"t":61.07,"v":1337},{"t":61.26,"v":1100},{"t":61.44,"v":982},{"t":61.62,"v":745},{"t":61.8,"v":769},{"t":61.99,"v":745},{"t":62.17,"v":864},{"t":62.54,"v":627},{"t":62.72,"v":568},{"t":62.9,"v":627},{"t":63.09,"v":982},{"t":63.27,"v":864},{"t":63.45,"v":1100},{"t":63.64,"v":1218},{"t":63.82,"v":1278},{"t":64.0,"v":1396},{"t":64.18,"v":1692},{"t":64.37,"v":1751},{"t":64.55,"v":1633},{"t":64.73,"v":1455},{"t":64.92,"v":1751},{"t":65.1,"v":1573},{"t":65.19,"v":745},{"t":65.37,"v":450},{"t":65.56,"v":509},{"t":65.74,"v":568},{"t":65.92,"v":627},{"t":66.11,"v":686},{"t":66.29,"v":804},{"t":66.47,"v":887},{"t":66.75,"v":923},{"t":67.11,"v":804},{"t":67.3,"v":686},{"t":67.57,"v":627},{"t":67.85,"v":509},{"t":68.03,"v":272},{"t":68.21,"v":331},{"t":68.39,"v":390},{"t":68.58,"v":1159},{"t":68.76,"v":1278},{"t":68.94,"v":1337},{"t":69.13,"v":1455},{"t":69.31,"v":1479},{"t":69.49,"v":1396},{"t":69.68,"v":982},{"t":69.86,"v":804},{"t":70.04,"v":864},{"t":70.22,"v":982},{"t":70.41,"v":1006},{"t":70.77,"v":923},{"t":70.96,"v":864},{"t":71.32,"v":804},{"t":71.69,"v":745},{"t":71.96,"v":627},{"t":72.24,"v":568},{"t":72.44,"v":568}],
  "v_red": [{"t":56.77,"v":509},{"t":56.86,"v":450},{"t":56.96,"v":509},{"t":57.0,"v":923},{"t":57.05,"v":982},{"t":57.09,"v":804},{"t":57.14,"v":864},{"t":57.23,"v":686},{"t":57.32,"v":804},{"t":57.41,"v":686},{"t":57.5,"v":864},{"t":57.6,"v":568},{"t":57.78,"v":509},{"t":57.96,"v":390},{"t":58.24,"v":414},{"t":58.51,"v":426},{"t":58.79,"v":450},{"t":59.43,"v":509},{"t":59.61,"v":745},{"t":59.97,"v":864},{"t":60.07,"v":923},{"t":60.16,"v":686},{"t":60.25,"v":568},{"t":60.34,"v":509},{"t":60.52,"v":864},{"t":60.71,"v":923},{"t":60.89,"v":864},{"t":61.07,"v":745},{"t":61.26,"v":568},{"t":61.44,"v":390},{"t":61.8,"v":272},{"t":62.17,"v":213},{"t":62.81,"v":272},{"t":62.99,"v":390},{"t":63.18,"v":509},{"t":63.45,"v":745},{"t":63.64,"v":804},{"t":63.82,"v":923},{"t":64.0,"v":1100},{"t":64.09,"v":804},{"t":64.28,"v":627},{"t":64.55,"v":509},{"t":64.73,"v":272},{"t":64.92,"v":450},{"t":65.1,"v":390},{"t":65.28,"v":450},{"t":65.47,"v":331},{"t":65.65,"v":272},{"t":65.83,"v":390},{"t":66.02,"v":509},{"t":66.2,"v":568},{"t":66.38,"v":627},{"t":66.47,"v":864},{"t":66.66,"v":923},{"t":66.84,"v":864},{"t":67.11,"v":804},{"t":67.21,"v":568},{"t":67.39,"v":390},{"t":67.66,"v":450},{"t":67.85,"v":331},{"t":68.03,"v":390},{"t":68.39,"v":627},{"t":68.58,"v":1041},{"t":68.76,"v":1100},{"t":69.13,"v":982},{"t":69.31,"v":864},{"t":69.49,"v":745},{"t":69.68,"v":686},{"t":69.86,"v":627},{"t":69.99,"v":745},{"t":70.5,"v":686},{"t":71.05,"v":804},{"t":71.41,"v":568},{"t":71.6,"v":450},{"t":72.15,"v":509},{"t":72.44,"v":450}],
  "v_band": [{"g":1,"d":"up","t":56.77,"hi":213,"lo":35},{"g":1,"d":"up","t":57.05,"hi":331,"lo":213},{"g":1,"d":"up","t":57.41,"hi":414,"lo":319},{"g":1,"d":"up","t":57.78,"hi":450,"lo":390},{"g":1,"d":"up","t":58.51,"hi":485,"lo":414},{"g":1,"d":"up","t":59.24,"hi":532,"lo":450},{"g":1,"d":"up","t":59.7,"hi":686,"lo":568},{"g":1,"d":"up","t":60.07,"hi":923,"lo":804},{"g":1,"d":"up","t":60.34,"hi":1041,"lo":887},{"g":1,"d":"up","t":60.8,"hi":1159,"lo":1041},{"g":1,"d":"up","t":61.26,"hi":1313,"lo":1159},{"g":1,"d":"up","t":61.71,"hi":1455,"lo":1278},{"g":1,"d":"up","t":62.17,"hi":1550,"lo":1396},{"g":1,"d":"up","t":62.63,"hi":1692,"lo":1550},{"g":1,"d":"up","t":62.99,"hi":1810,"lo":1692},{"g":1,"d":"up","t":63.13,"hi":1905,"lo":1905},
    {"g":2,"d":"down","t":63.13,"hi":1905,"lo":1905},{"g":2,"d":"down","t":63.54,"hi":1834,"lo":1751},{"g":2,"d":"down","t":64.0,"hi":1751,"lo":1455},{"g":2,"d":"down","t":64.37,"hi":1633,"lo":1360},{"g":2,"d":"down","t":64.73,"hi":1455,"lo":1278},{"g":2,"d":"down","t":65.1,"hi":1313,"lo":1195},{"g":2,"d":"down","t":65.47,"hi":1195,"lo":1124},{"g":2,"d":"down","t":65.83,"hi":1124,"lo":1124},
    {"g":3,"d":"up","t":65.83,"hi":1124,"lo":1124},{"g":3,"d":"up","t":66.38,"hi":1266,"lo":1159},{"g":3,"d":"up","t":66.93,"hi":1337,"lo":1195},{"g":3,"d":"up","t":67.48,"hi":1396,"lo":1242},{"g":3,"d":"up","t":68.03,"hi":1431,"lo":1278},{"g":3,"d":"up","t":68.39,"hi":1384,"lo":1313},{"g":3,"d":"up","t":68.58,"hi":1337,"lo":1337},
    {"g":4,"d":"down","t":68.58,"hi":1337,"lo":1337},{"g":4,"d":"down","t":69.04,"hi":1195,"lo":1006},{"g":4,"d":"down","t":69.49,"hi":1006,"lo":840},{"g":4,"d":"down","t":69.86,"hi":887,"lo":804},{"g":4,"d":"down","t":70.04,"hi":864,"lo":864},
    {"g":5,"d":"up","t":70.04,"hi":864,"lo":864},{"g":5,"d":"up","t":70.41,"hi":923,"lo":864},{"g":5,"d":"up","t":70.77,"hi":887,"lo":840},{"g":5,"d":"up","t":70.96,"hi":840,"lo":840},
    {"g":6,"d":"down","t":70.96,"hi":840,"lo":840},{"g":6,"d":"down","t":71.51,"hi":864,"lo":828},{"g":6,"d":"down","t":72.06,"hi":887,"lo":852},{"g":6,"d":"down","t":72.69,"hi":935,"lo":900}],
  "v_zero": [{"t":56.76,"v":0},{"t":72.35,"v":0}],
  "v_circle": [{"t":59.5,"v":722}],
  "v_tag": [{"t":72.69,"v":700,"label":"642.75"},{"t":72.69,"v":450,"label":"603.88"}]
},
"vconcat": [
 {
  "width": 580, "height": 82,
  "title": {"text": "MOMomentum(CL 10-15 (10 Seconds),5,5)", "anchor": "start", "frame": "group", "offset": -11, "fontSize": 6.5, "fontWeight": "bold", "color": "#000000", "dx": 1},
  "encoding": {
    "x": {"field": "t", "type": "quantitative", "scale": {"domain": [56.76, 72.69], "nice": false, "zero": false}, "axis": {"values": [57,58,59,60,61,62,63,64,65,66,67,68,69,70,71,72], "labels": false, "ticks": false, "grid": true, "gridColor": "#f1edbf", "title": null}},
    "y": {"field": "v", "type": "quantitative", "scale": {"domain": [-0.169, 0.144], "nice": false, "zero": false}, "axis": {"orient": "right", "values": [-0.1, 0, 0.1], "labelExpr": "'' + datum.value", "grid": true, "gridColor": "#e4e4e4", "title": null}}
  },
  "layer": [
    {"data": {"name": "m_zero"}, "mark": {"type": "line", "color": "#a63cf0", "strokeWidth": 2.2}, "encoding": {}},
    {"data": {"name": "m_red"}, "mark": {"type": "line", "color": "#e01010", "strokeWidth": 1.4, "clip": true}, "encoding": {}},
    {"data": {"name": "m_black"}, "mark": {"type": "line", "color": "#000000", "strokeWidth": 1.4, "clip": true}, "encoding": {}},
    {"data": {"name": "m_blue"}, "mark": {"type": "line", "color": "#1818d8", "strokeWidth": 2.6, "clip": true}, "encoding": {}},
    {"data": {"name": "m_circle"}, "mark": {"type": "point", "shape": "circle", "filled": true, "size": 2116, "color": "#7c7ce6", "opacity": 0.5, "stroke": "#5454c4", "strokeWidth": 1}, "encoding": {}},
    {"data": {"name": "m_icon"}, "mark": {"type": "text", "color": "#000000", "fontSize": 8, "fontWeight": "bold", "font": "DejaVu Sans"}, "encoding": {"text": {"field": "label"}}},
    {"data": {"name": "m_tag"}, "mark": {"type": "point", "shape": "M-1,0L-0.75,-0.4L1,-0.4L1,0.4L-0.75,0.4Z", "filled": true, "size": 484, "color": "#666666", "opacity": 1, "xOffset": 13}, "encoding": {}},
    {"data": {"name": "m_tag"}, "mark": {"type": "text", "color": "#ffffff", "fontSize": 6.5, "fontWeight": "bold", "dx": 14}, "encoding": {"text": {"field": "label"}}}
  ]
 },
 {
  "width": 580, "height": 82,
  "title": {"text": "MACD(CL 10-15 (10 Seconds),12,26,9)", "anchor": "start", "frame": "group", "offset": -11, "fontSize": 6.5, "fontWeight": "bold", "color": "#000000", "dx": 1},
  "encoding": {
    "x": {"field": "t", "type": "quantitative", "scale": {"domain": [56.76, 72.69], "nice": false, "zero": false}, "axis": {"values": [57,58,59,60,61,62,63,64,65,66,67,68,69,70,71,72], "labels": false, "ticks": false, "grid": true, "gridColor": "#f1edbf", "title": null}},
    "y": {"field": "v", "type": "quantitative", "scale": {"domain": [-0.0318, 0.0303], "nice": false, "zero": false}, "axis": {"orient": "right", "values": [-0.02, -0.01, 0, 0.01, 0.02], "labelExpr": "'' + datum.value", "grid": false, "title": null}}
  },
  "layer": [
    {"data": {"name": "d_band"}, "mark": {"type": "area", "strokeWidth": 0.6, "clip": true}, "encoding": {"y": {"field": "hi", "type": "quantitative", "scale": {"domain": [-0.0318, 0.0303], "nice": false, "zero": false}, "axis": null}, "y2": {"field": "lo"}, "detail": {"field": "g"}, "fill": {"field": "d", "type": "nominal", "scale": {"domain": ["up", "down"], "range": ["#4fae4f", "#ee7474"]}, "legend": null}, "stroke": {"field": "d", "type": "nominal", "scale": {"domain": ["up", "down"], "range": ["#236b23", "#c43a3a"]}, "legend": null}}},
    {"data": {"name": "d_zero"}, "mark": {"type": "line", "color": "#22b6c6", "strokeWidth": 2}, "encoding": {}},
    {"data": {"name": "d_black2"}, "mark": {"type": "line", "color": "#000000", "strokeWidth": 1.2, "clip": true}, "encoding": {}},
    {"data": {"name": "d_blue2"}, "mark": {"type": "line", "color": "#1818d8", "strokeWidth": 1.2, "clip": true}, "encoding": {}},
    {"data": {"name": "d_black"}, "mark": {"type": "line", "color": "#000000", "strokeWidth": 2.2, "clip": true}, "encoding": {}},
    {"data": {"name": "d_blue"}, "mark": {"type": "line", "color": "#1818d8", "strokeWidth": 2.4, "clip": true}, "encoding": {}},
    {"data": {"name": "d_red2"}, "mark": {"type": "line", "color": "#e01010", "strokeWidth": 1.3, "clip": true}, "encoding": {}},
    {"data": {"name": "d_red"}, "mark": {"type": "line", "color": "#e01010", "strokeWidth": 2.4, "clip": true}, "encoding": {}},
    {"data": {"name": "d_circle"}, "mark": {"type": "point", "shape": "circle", "filled": true, "size": 4200, "color": "#7c7ce6", "opacity": 0.5, "stroke": "#5454c4", "strokeWidth": 1, "clip": true}, "encoding": {}}
  ]
 },
 {
  "width": 580, "height": 72,
  "title": {"text": "STO(CL 10-15 (10 Seconds),3,5,3)", "anchor": "start", "frame": "group", "offset": -11, "fontSize": 6.5, "fontWeight": "bold", "color": "#000000", "dx": 1},
  "encoding": {
    "x": {"field": "t", "type": "quantitative", "scale": {"domain": [56.76, 72.69], "nice": false, "zero": false}, "axis": {"values": [57,58,59,60,61,62,63,64,65,66,67,68,69,70,71,72], "labels": false, "ticks": false, "grid": true, "gridColor": "#f1edbf", "title": null}},
    "y": {"field": "v", "type": "quantitative", "scale": {"domain": [-9.8, 108.2], "nice": false, "zero": false}, "axis": {"orient": "right", "values": [0, 50, 100], "grid": false, "title": null}}
  },
  "layer": [
    {"data": {"name": "s_band"}, "mark": {"type": "area", "strokeWidth": 0.7, "clip": true}, "encoding": {"y": {"field": "hi", "type": "quantitative", "scale": {"domain": [-9.8, 108.2], "nice": false, "zero": false}, "axis": null}, "y2": {"field": "lo"}, "detail": {"field": "g"}, "fill": {"field": "d", "type": "nominal", "scale": {"domain": ["up", "down"], "range": ["#4fae4f", "#ee7474"]}, "legend": null}, "stroke": {"field": "d", "type": "nominal", "scale": {"domain": ["up", "down"], "range": ["#2f8a2f", "#d04040"]}, "legend": null}}},
    {"data": {"name": "s_dash"}, "mark": {"type": "line", "color": "#000000", "strokeWidth": 1, "strokeDash": [3, 2]}, "encoding": {"detail": {"field": "k"}}},
    {"data": {"name": "s_mid"}, "mark": {"type": "line", "color": "#000000", "strokeWidth": 1.2}, "encoding": {}},
    {"data": {"name": "s_black"}, "mark": {"type": "line", "color": "#000000", "strokeWidth": 1, "clip": true}, "encoding": {}},
    {"data": {"name": "s_red"}, "mark": {"type": "line", "color": "#e01010", "strokeWidth": 1.6, "clip": true}, "encoding": {}},
    {"data": {"name": "s_blue"}, "mark": {"type": "line", "color": "#1818d8", "strokeWidth": 2.6, "clip": true}, "encoding": {}},
    {"data": {"name": "s_circle"}, "mark": {"type": "point", "shape": "circle", "filled": true, "size": 1156, "color": "#7c7ce6", "opacity": 0.5, "stroke": "#5454c4", "strokeWidth": 1}, "encoding": {}},
    {"data": {"name": "s_tag"}, "mark": {"type": "point", "shape": "M-1,0L-0.78,-0.36L1,-0.36L1,0.36L-0.78,0.36Z", "filled": true, "size": 484, "color": "#666666", "opacity": 1, "xOffset": 13}, "encoding": {}},
    {"data": {"name": "s_tag"}, "mark": {"type": "text", "color": "#ffffff", "fontSize": 6.5, "fontWeight": "bold", "dx": 14}, "encoding": {"text": {"field": "label"}}}
  ]
 },
 {
  "width": 580, "height": 63,
  "title": {"text": "MOMO_MIN (10 Seconds), BBW(CL 10-15 (10 Seconds),1.25,10)", "anchor": "start", "frame": "group", "offset": -11, "fontSize": 6.5, "fontWeight": "bold", "color": "#000000", "dx": 1},
  "encoding": {
    "x": {"field": "t", "type": "quantitative", "scale": {"domain": [56.76, 72.69], "nice": false, "zero": false}, "axis": {"values": [57,58,59,60,61,62,63,64,65,66,67,68,69,70,71,72], "labelExpr": "datum.value < 60 ? '10:' + datum.value : '11:' + (datum.value < 70 ? '0' : '') + (datum.value - 60)", "labelFontSize": 7.5, "labelFontWeight": "bold", "labelPadding": 1, "ticks": false, "grid": true, "gridColor": "#f1edbf", "title": null}},
    "y": {"field": "v", "type": "quantitative", "scale": {"domain": [-130, 2106], "nice": false, "zero": false}, "axis": {"orient": "right", "values": [0, 1000, 1500, 2000], "labelExpr": "datum.value == 0 ? '0' : format(datum.value, '.2f')", "grid": false, "title": null}}
  },
  "layer": [
    {"data": {"name": "v_band"}, "mark": {"type": "area", "strokeWidth": 0.6, "clip": true}, "encoding": {"y": {"field": "hi", "type": "quantitative", "scale": {"domain": [-130, 2106], "nice": false, "zero": false}, "axis": null}, "y2": {"field": "lo"}, "detail": {"field": "g"}, "fill": {"field": "d", "type": "nominal", "scale": {"domain": ["up", "down"], "range": ["#4fae4f", "#ee7474"]}, "legend": null}, "stroke": {"field": "d", "type": "nominal", "scale": {"domain": ["up", "down"], "range": ["#236b23", "#c43a3a"]}, "legend": null}}},
    {"data": {"name": "v_zero"}, "mark": {"type": "line", "color": "#1c1c78", "strokeWidth": 2}, "encoding": {}},
    {"data": {"name": "v_red"}, "mark": {"type": "line", "color": "#e01010", "strokeWidth": 1.4, "interpolate": "step-after", "clip": true}, "encoding": {}},
    {"data": {"name": "v_black"}, "mark": {"type": "line", "color": "#000000", "strokeWidth": 1.4, "interpolate": "step-after", "clip": true}, "encoding": {}},
    {"data": {"name": "v_blue"}, "mark": {"type": "line", "color": "#1818d8", "strokeWidth": 2.2, "interpolate": "step-after", "clip": true}, "encoding": {}},
    {"data": {"name": "v_circle"}, "mark": {"type": "point", "shape": "circle", "filled": true, "size": 1156, "color": "#7c7ce6", "opacity": 0.5, "stroke": "#5454c4", "strokeWidth": 1}, "encoding": {}},
    {"data": {"name": "v_tag"}, "mark": {"type": "point", "shape": "M-1,0L-0.8,-0.33L1,-0.33L1,0.33L-0.8,0.33Z", "filled": true, "size": 625, "color": "#666666", "opacity": 1, "xOffset": 14}, "encoding": {}},
    {"data": {"name": "v_tag"}, "mark": {"type": "text", "color": "#ffffff", "fontSize": 6.5, "fontWeight": "bold", "dx": 15}, "encoding": {"text": {"field": "label"}}}
  ]
 }
]
}
